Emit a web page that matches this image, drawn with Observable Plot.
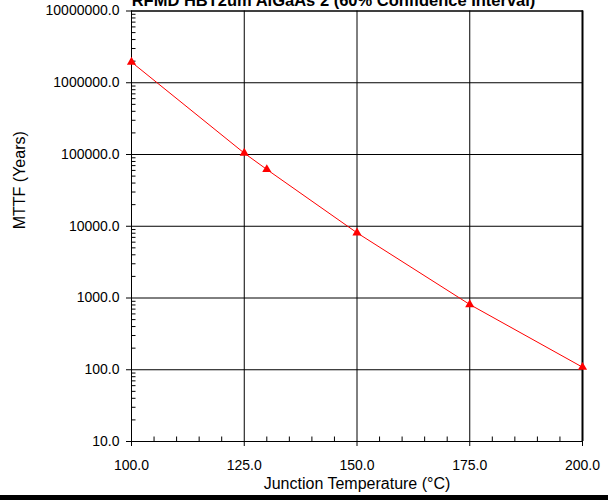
<!DOCTYPE html>
<html><head><meta charset="utf-8">
<script src="https://cdn.jsdelivr.net/npm/d3@7"></script>
<script src="https://cdn.jsdelivr.net/npm/@observablehq/plot@0.6"></script>
<style>
html,body{margin:0;padding:0;background:#fff;overflow:hidden}
#bar{height:5px;background:#000}
</style></head><body>
<div id="chart"></div><div id="bar"></div>
<script>
const title = "RFMD HBT2um AlGaAs 2 (60% Confidence Interval)";
const xLabel = "Junction Temperature (°C)";
const yLabel = "MTTF (Years)";
const temperature = [100, 125, 130, 150, 175, 200];
const mttfYears = [1940000, 104500, 61900, 8100, 812, 108.6];
const xTicks = [100, 125, 150, 175, 200];
const xMinorTicks = [105, 110, 115, 120, 130, 135, 140, 145, 155, 160, 165, 170, 180, 185, 190, 195];
const yTicks = [10, 100, 1000, 10000, 100000, 1000000, 10000000];
const minorMultipliers = [2, 3, 4, 5, 6, 7, 8, 9];
const yMinorTicks = yTicks.slice(0, -1).flatMap(d => minorMultipliers.map(k => k * d));

const data = temperature.map((t, i) => ({t, m: mttfYears[i]}));
const fmt = d3.format(".1f");

const W = 608, H = 495, mL = 131, mR = 26, mT = 10.5, mB = 54;
const frameW = W - mL - mR, frameH = H - mT - mB;
const minorLen = 4.5, majorLen = 5;

const chart = Plot.plot({
  width: W,
  height: H,
  marginLeft: mL,
  marginRight: mR,
  marginTop: mT,
  marginBottom: mB,
  style: {fontFamily: "'Liberation Sans', Arial, sans-serif", fontSize: "14px", background: "#fff", color: "#000", overflow: "visible"},
  x: {domain: [100, 200], type: "linear"},
  y: {domain: [10, 10000000], type: "log"},
  marks: [
    Plot.gridY(yTicks, {stroke: "#000", strokeOpacity: 1, strokeWidth: 1}),
    Plot.gridX(xTicks, {stroke: "#000", strokeOpacity: 1, strokeWidth: 1}),
    Plot.frame({stroke: "#000", strokeWidth: 1}),
    Plot.ruleX([xTicks[xTicks.length - 1]], {stroke: "#000", strokeWidth: 2}),
    Plot.ruleY(yTicks, {stroke: "#000", insetLeft: -majorLen, insetRight: frameW}),
    Plot.ruleX(xTicks, {stroke: "#000", insetBottom: -majorLen, insetTop: frameH}),
    Plot.ruleY(yMinorTicks, {stroke: "#000", strokeWidth: 1, insetRight: frameW - minorLen}),
    Plot.ruleX(xMinorTicks, {stroke: "#000", strokeWidth: 1, insetTop: frameH - minorLen}),
    Plot.axisY(yTicks, {tickSize: 0, tickPadding: 12, tickFormat: fmt, label: null}),
    Plot.axisX(xTicks, {tickSize: 0, tickPadding: 19, tickFormat: fmt, label: null}),
    Plot.line(data, {x: "t", y: "m", stroke: "#ff0000", strokeWidth: 1}),
    Plot.dot(data, {x: "t", y: "m", symbol: "triangle", r: 3.4, fill: "#ff0000", stroke: "none"}),
    Plot.text([yLabel], {frameAnchor: "left", rotate: -90, dx: -112, dy: 3, fontSize: 16}),
    Plot.text([xLabel], {frameAnchor: "bottom", dy: 47.5, fontSize: 16}),
    Plot.text([title], {frameAnchor: "top", lineAnchor: "bottom", dx: -23.5, dy: -5, fontSize: 16.5, fontWeight: "bold"})
  ]
});
document.getElementById("chart").appendChild(chart);
</script>
</body></html>
